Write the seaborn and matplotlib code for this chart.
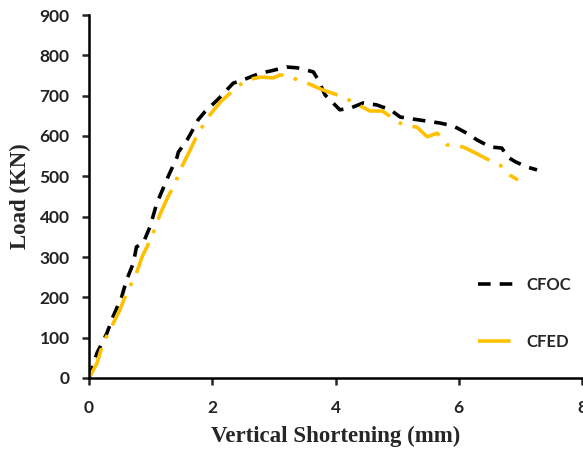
import matplotlib
matplotlib.use("Agg")
import matplotlib.pyplot as plt
import seaborn as sns
import pandas as pd

cfoc_x = [0, 0.13, 0.18, 0.29, 0.39, 0.45, 0.53, 0.61, 0.72, 0.77, 0.88, 0.99, 1.10, 1.28, 1.43, 1.45,
          1.59, 1.64, 1.77, 1.88, 2.08, 2.13, 2.34, 2.50, 2.78, 2.94, 3.21, 3.38, 3.64, 3.72, 3.83,
          4.07, 4.24, 4.45, 4.67, 4.89, 5.05, 5.26, 5.70, 5.91, 6.13, 6.30, 6.51, 6.70, 6.79, 6.92,
          7.11, 7.27]
cfoc_y = [0, 62, 77, 111, 152, 173, 201, 243, 285, 325, 335, 375, 433, 498, 548, 560,
          590, 603, 640, 660, 689, 697, 731, 739, 756, 761, 771, 769, 759, 739, 702,
          665, 669, 682, 677, 665, 647, 642, 632, 625, 607, 590, 573, 570, 548, 536,
          523, 516]

cfed_x = [0, 0.13, 0.23, 0.34, 0.42, 0.50, 0.63, 0.75, 0.86, 0.94, 1.02, 1.15, 1.28, 1.40, 1.48,
          1.64, 1.77, 1.96, 2.13, 2.26, 2.40, 2.56, 2.78, 2.99, 3.10, 3.21, 3.38, 3.54, 3.80,
          4.12, 4.37, 4.56, 4.76, 4.97, 5.10, 5.32, 5.49, 5.65, 5.81, 6.07, 6.27, 6.43, 6.67,
          6.83, 6.96]
cfed_y = [0, 37, 87, 119, 144, 169, 218, 251, 300, 325, 350, 405, 449, 483, 516,
          565, 607, 652, 684, 702, 722, 739, 746, 744, 751, 751, 739, 731, 714,
          697, 677, 662, 662, 640, 627, 622, 598, 607, 578, 573, 558, 545, 528,
          503, 491]

x_ticks = [0, 2, 4, 6, 8]
y_ticks = [0, 100, 200, 300, 400, 500, 600, 700, 800, 900]

sns.set_style("ticks")
plt.rcParams['font.family'] = ['Lato', 'DejaVu Sans']

fig = plt.figure(figsize=(5.83, 4.5), dpi=100)
ax = fig.add_axes([89/583, 1-378/450, (582-89)/583, (378-15)/450])

df1 = pd.DataFrame({"x": cfoc_x, "y": cfoc_y})
df2 = pd.DataFrame({"x": cfed_x, "y": cfed_y})
sns.lineplot(data=df1, x="x", y="y", ax=ax, sort=False, color="black", lw=2.6,
             label="CFOC", estimator=None)
sns.lineplot(data=df2, x="x", y="y", ax=ax, sort=False, color="#FFC000", lw=2.6,
             label="CFED", estimator=None)
ax.lines[0].set_dashes((3.5, 2.5))
ax.lines[1].set_dashes((9, 3, 1, 3))

ax.set_xlim(0, 8)
ax.set_ylim(0, 900)
ax.set_xticks(x_ticks)
ax.set_yticks(y_ticks)
for lab in ax.get_xticklabels() + ax.get_yticklabels():
    lab.set_fontweight("bold")
    lab.set_fontsize(12.5)
    lab.set_color("#222222")
ax.tick_params(axis="y", direction="out", length=5, width=1.8, pad=9)
ax.tick_params(axis="x", direction="out", length=5, width=1.8, pad=11)
for s in ["left", "bottom"]:
    ax.spines[s].set_linewidth(1.8)
    ax.spines[s].set_color("black")
sns.despine(ax=ax)

ax.set_xlabel("Vertical Shortening (mm)", fontfamily="Liberation Serif", fontweight="bold",
              fontsize=16.5, labelpad=7)
ax.set_ylabel("Load (KN)", fontfamily="Liberation Serif", fontweight="bold",
              fontsize=16.5, labelpad=6)

ax.legend_.remove()
h, l = ax.get_legend_handles_labels()
leg = fig.legend(h, l, loc="upper left", bbox_to_anchor=(478/583, 1-277/450),
                 frameon=False, borderpad=0, borderaxespad=0, handlelength=2.3,
                 handletextpad=0.6, labelspacing=2.45,
                 prop={"family": "Lato", "weight": "bold", "size": 12})

fig.savefig("out.png", dpi=100)
